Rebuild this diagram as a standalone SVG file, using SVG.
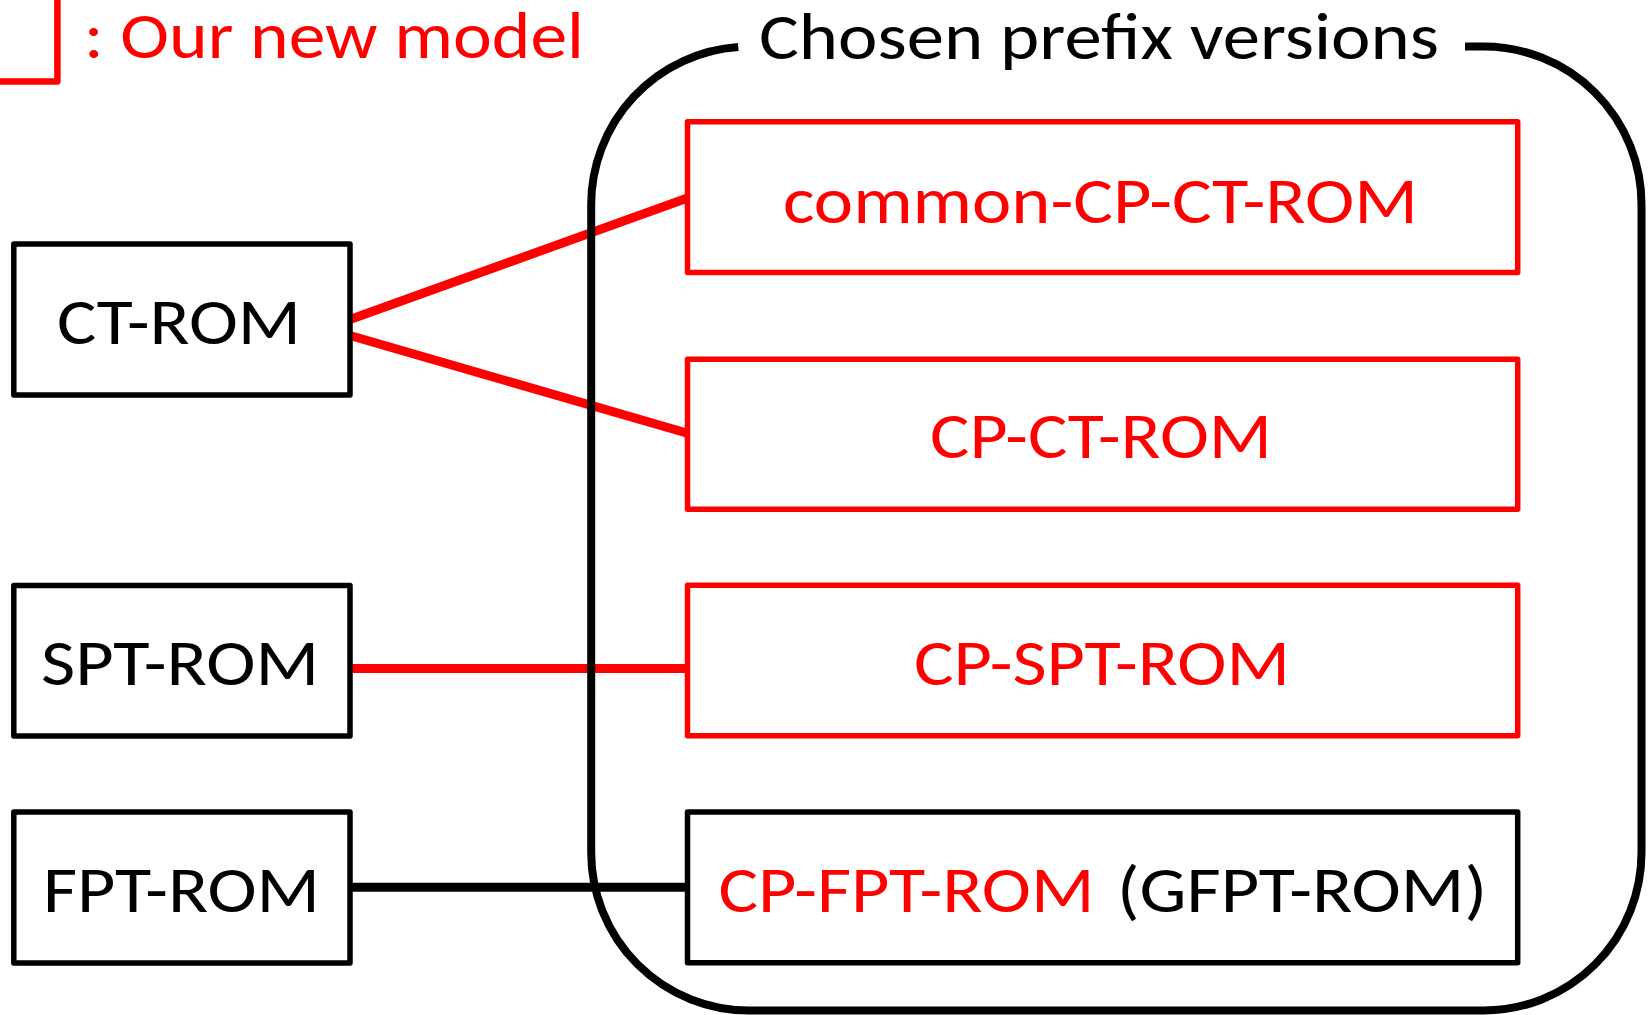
<svg xmlns="http://www.w3.org/2000/svg" width="1650" height="1015" viewBox="0 0 1650 1015">
  <style>
    .lbl { font-family: Carlito, Lato, "Open Sans", sans-serif; font-size: 65px; }
    .red { fill: #FF0000; }
    .blk { fill: #000000; }
    .box { fill: #FFFFFF; stroke-width: 5.5; stroke-linejoin: round; }
    .box-k { stroke: #000000; }
    .box-r { stroke: #FF0000; }
    .wire { fill: none; stroke-width: 9; stroke-linecap: butt; }
  </style>

  <rect width="1650" height="1015" fill="#FFFFFF"/>

  <!-- legend: corner of a red frame plus its caption -->
  <g id="legend">
    <path d="M -6 81.5 H 57.4 V -6" fill="none" stroke="#FF0000" stroke-width="6.5" stroke-linejoin="round"/>
    <text class="lbl red" x="84" y="58.3" textLength="500" lengthAdjust="spacingAndGlyphs">: Our new model</text>
  </g>

  <!-- connectors -->
  <g id="connectors">
    <line class="wire" x1="350" y1="319.5" x2="687.5" y2="198" stroke="#FF0000"/>
    <line class="wire" x1="350" y1="335.5" x2="687.5" y2="433.3" stroke="#FF0000"/>
    <line class="wire" x1="350" y1="668.5" x2="687.5" y2="668.5" stroke="#FF0000"/>
    <line class="wire" x1="350" y1="887.2" x2="687.5" y2="887.2" stroke="#000000"/>
  </g>

  <!-- rounded frame around the prefix versions, open at the title -->
  <g id="prefix-group">
    <path d="M 738.3 47 A 158 158 0 0 0 591.2 204.5 V 852.5 A 158 158 0 0 0 749.2 1010.5 H 1483.5 A 158 158 0 0 0 1641.5 852.5 V 204.5 A 158 158 0 0 0 1483.5 46.5 H 1465" fill="none" stroke="#000000" stroke-width="8"/>
    <text class="lbl blk" x="759" y="59.3" textLength="680" lengthAdjust="spacingAndGlyphs">Chosen prefix versions</text>
  </g>

  <!-- base models -->
  <g id="ct-rom">
    <rect class="box box-k" x="13.8" y="244" width="336.2" height="151"/>
    <text class="lbl blk" x="57" y="344" textLength="244" lengthAdjust="spacingAndGlyphs">CT-ROM</text>
  </g>
  <g id="spt-rom">
    <rect class="box box-k" x="13.8" y="585.5" width="336.2" height="150.5"/>
    <text class="lbl blk" x="41" y="685" textLength="278" lengthAdjust="spacingAndGlyphs">SPT-ROM</text>
  </g>
  <g id="fpt-rom">
    <rect class="box box-k" x="13.8" y="812" width="336.2" height="151"/>
    <text class="lbl blk" x="43" y="911.7" textLength="277" lengthAdjust="spacingAndGlyphs">FPT-ROM</text>
  </g>

  <!-- prefix versions -->
  <g id="common-cp-ct-rom">
    <rect class="box box-r" x="687.5" y="121.7" width="830.2" height="150.8"/>
    <text class="lbl red" x="783" y="222.7" textLength="635" lengthAdjust="spacingAndGlyphs">common-CP-CT-ROM</text>
  </g>
  <g id="cp-ct-rom">
    <rect class="box box-r" x="687.5" y="359.2" width="830.2" height="150.1"/>
    <text class="lbl red" x="930" y="458.3" textLength="342" lengthAdjust="spacingAndGlyphs">CP-CT-ROM</text>
  </g>
  <g id="cp-spt-rom">
    <rect class="box box-r" x="687.5" y="585.3" width="830.2" height="150.5"/>
    <text class="lbl red" x="914" y="685.3" textLength="376" lengthAdjust="spacingAndGlyphs">CP-SPT-ROM</text>
  </g>
  <g id="cp-fpt-rom">
    <rect class="box box-k" x="687.5" y="812" width="830.2" height="150.7"/>
    <text class="lbl red" x="718.5" y="911.7" textLength="376" lengthAdjust="spacingAndGlyphs">CP-FPT-ROM</text>
    <text class="lbl blk" x="1117" y="911.7" textLength="370" lengthAdjust="spacingAndGlyphs">(GFPT-ROM)</text>
  </g>
</svg>
